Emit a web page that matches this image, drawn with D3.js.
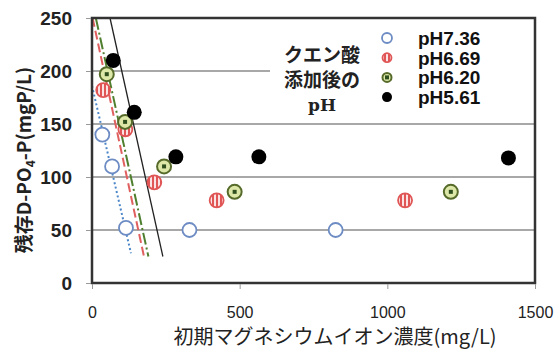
<!DOCTYPE html>
<html>
<head>
<meta charset="utf-8">
<script src="https://cdn.jsdelivr.net/npm/d3@7"></script>
<style>
  body { margin: 0; background: #fff; }
  svg { display: block; }
</style>
</head>
<body>
<svg id="chart" width="560" height="351"></svg>
<script>
// chart data
const xTicks = [0, 500, 1000, 1500];
const yTicks = [0, 50, 100, 150, 200, 250];
const seriesNames = ["pH7.36", "pH6.69", "pH6.20", "pH5.61"];

// initial Mg (mg/L) and residual D-PO4-P (mgP/L)
const mg736 = [35, 68, 115, 330, 825];
const p736 = [140, 110, 52, 50, 50];
const mg669 = [38, 113, 211, 422, 1060];
const p669 = [182, 145, 95, 78, 78];
const mg620 = [50, 112, 244, 483, 1215];
const p620 = [197, 152, 110, 86, 86];
const mg561 = [72, 143, 284, 565, 1410];
const p561 = [210, 161, 119, 119, 118];

// trend lines (two end points each)
const lineMg736 = [0, 132], lineP736 = [186, 28];
const lineMg669 = [2, 176], lineP669 = [250, 25];
const lineMg620 = [13, 191], lineP620 = [250, 25];
const lineMg561 = [61, 240], lineP561 = [250, 25];

const legendTitle = ["クエン酸", "添加後の", "pH"];

const svg = d3.select("#chart");
const plotLeft = 92, plotRight = 535, plotTop = 18, plotBottom = 283;

const x = d3.scaleLinear().domain([0, 1500]).range([plotLeft, plotRight]);
const y = d3.scaleLinear().domain([0, 250]).range([plotBottom, plotTop]);

// pattern for the striped red markers
const defs = svg.append("defs");
const stripes = defs.append("pattern")
  .attr("id", "stripes")
  .attr("patternUnits", "userSpaceOnUse")
  .attr("width", 4).attr("height", 4);
stripes.append("rect").attr("width", 4).attr("height", 4).attr("fill", "#fbe3e3");
stripes.append("rect").attr("width", 2).attr("height", 4).attr("fill", "#e05555");

// gridlines
svg.append("g")
  .selectAll("line")
  .data(yTicks.filter(d => d > 0 && d < 250))
  .enter()
  .append("line")
  .attr("x1", plotLeft).attr("x2", plotRight)
  .attr("y1", d => y(d)).attr("y2", d => y(d))
  .attr("stroke", "#a8a8a8")
  .attr("stroke-width", 2);

// trend lines
const lines = [
  { mg: lineMg736, p: lineP736, color: "#4a86c8", dash: "2,2.5", w: 2 },
  { mg: lineMg669, p: lineP669, color: "#e06060", dash: "9,4", w: 2 },
  { mg: lineMg620, p: lineP620, color: "#4f7f2f", dash: "12,3,2,3", w: 2 },
  { mg: lineMg561, p: lineP561, color: "#222", dash: null, w: 1.3 }
];
const lineGen = d3.line().x(d => x(d[0])).y(d => y(d[1]));
lines.forEach(l => {
  svg.append("path")
    .attr("d", lineGen(d3.zip(l.mg, l.p)))
    .attr("fill", "none")
    .attr("stroke", l.color)
    .attr("stroke-width", l.w)
    .attr("stroke-dasharray", l.dash);
});

// legend box
svg.append("rect")
  .attr("x", 270).attr("y", plotTop)
  .attr("width", plotRight - 270).attr("height", 104)
  .attr("fill", "#fff");

const titleY = [62, 87, 111];
legendTitle.forEach((t, i) => {
  svg.append("text")
    .attr("x", 322)
    .attr("y", titleY[i])
    .attr("text-anchor", "middle")
    .attr("font-family", i === 2 ? "DejaVu Serif, serif" : "Noto Sans CJK JP")
    .attr("font-weight", "bold")
    .attr("font-size", i === 2 ? "17px" : "19px")
    .attr("fill", "#222")
    .text(t);
});

function drawMarker(g, type, cx, cy, r) {
  if (type === 0) {
    g.append("circle").attr("cx", cx).attr("cy", cy).attr("r", r)
      .attr("fill", "#fff").attr("stroke", "#6d8cc4").attr("stroke-width", 1.8);
  } else if (type === 1) {
    g.append("circle").attr("cx", cx).attr("cy", cy).attr("r", r - 0.5)
      .attr("fill", "url(#stripes)").attr("stroke", "#e05555").attr("stroke-width", 1.8);
  } else if (type === 2) {
    g.append("circle").attr("cx", cx).attr("cy", cy).attr("r", r - 0.5)
      .attr("fill", "#dde8a8").attr("stroke", "#566b2a").attr("stroke-width", 2);
    g.append("rect").attr("x", cx - 2).attr("y", cy - 2).attr("width", 4).attr("height", 4)
      .attr("fill", "#2f4f1f");
  } else {
    g.append("circle").attr("cx", cx).attr("cy", cy).attr("r", r)
      .attr("fill", "#000");
  }
}

// legend entries
seriesNames.forEach((name, i) => {
  const ly = 38 + i * 19.7;
  drawMarker(svg.append("g"), i, 387, ly, 5);
  svg.append("text")
    .attr("x", 418).attr("y", ly + 7)
    .attr("font-family", "Liberation Sans, Arial, sans-serif")
    .attr("font-weight", "bold")
    .attr("font-size", "19px")
    .attr("fill", "#111")
    .text(name);
});

// points
const series = [
  { mg: mg736, p: p736 },
  { mg: mg669, p: p669 },
  { mg: mg620, p: p620 },
  { mg: mg561, p: p561 }
];
series.forEach((s, i) => {
  const g = svg.append("g");
  d3.zip(s.mg, s.p).forEach(d => {
    drawMarker(g, i, x(d[0]), y(d[1]), i === 0 ? 7 : 7.5);
  });
});

// frame
svg.append("rect")
  .attr("x", plotLeft).attr("y", plotTop)
  .attr("width", plotRight - plotLeft).attr("height", plotBottom - plotTop)
  .attr("fill", "none")
  .attr("stroke", "#333")
  .attr("stroke-width", 2.5);

// axes
const yAxis = svg.append("g")
  .attr("transform", `translate(${plotLeft - 1},0)`)
  .call(d3.axisLeft(y).tickValues(yTicks).tickSize(5).tickPadding(14));
yAxis.select(".domain").remove();
yAxis.selectAll("line").attr("stroke", "#999");
yAxis.selectAll("text")
  .attr("font-family", "Liberation Sans, Arial, sans-serif")
  .attr("font-size", "19px")
  .attr("font-weight", "bold")
  .attr("fill", "#222");

const xAxis = svg.append("g")
  .attr("transform", `translate(0,${plotBottom + 1})`)
  .call(d3.axisBottom(x).tickValues(xTicks).tickFormat(d3.format("d")).tickSize(5).tickPadding(18));
xAxis.select(".domain").remove();
xAxis.selectAll("line").attr("stroke", "#999");
xAxis.selectAll("text")
  .attr("font-family", "Liberation Sans, Arial, sans-serif")
  .attr("font-size", "16px")
  .attr("fill", "#222");

// axis titles
svg.append("text")
  .attr("x", 335).attr("y", 344)
  .attr("text-anchor", "middle")
  .attr("font-family", "Noto Sans CJK JP")
  .attr("font-size", "20px")
  .attr("fill", "#222")
  .text("初期マグネシウムイオン濃度(mg/L)");

const yTitle = svg.append("text")
  .attr("transform", "translate(31,160) rotate(-90)")
  .attr("text-anchor", "middle")
  .attr("font-family", "Noto Sans CJK JP")
  .attr("font-weight", "bold")
  .attr("font-size", "19px")
  .attr("fill", "#222");
yTitle.append("tspan").text("残存D-PO");
yTitle.append("tspan").attr("font-size", "12px").attr("dy", 4).text("4");
yTitle.append("tspan").attr("dy", -4).text("-P(mgP/L)");
</script>
</body>
</html>
